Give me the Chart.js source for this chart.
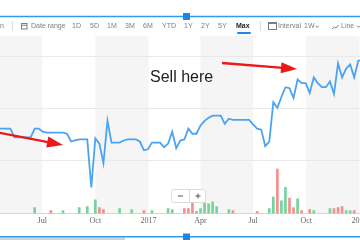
<!DOCTYPE html>
<html>
<head>
<meta charset="utf-8">
<script src="https://cdn.jsdelivr.net/npm/chart.js@4/dist/chart.umd.min.js"></script>
<style>
  html, body { margin: 0; padding: 0; background: #fff; }
</style>
</head>
<body>
<canvas id="chart" width="360" height="240"></canvas>
<script>
// weekly closes, first week ending 2016-04-16
const weekStart = '2016-04-16';
const closes = [
  46.1, 46.1, 46.1, 46.1, 44.4, 44.4, 44.4, 44.4, 44.4, 46.1,
  46.1, 45.5, 45.3, 45.3, 45.3, 45.3, 45.3, 45.1, 43.6, 43.8,
  44.0, 44.0, 44.0, 34.7, 44.2, 43.2, 39.4, 47.6, 43.4, 43.4,
  43.4, 43.8, 44.0, 44.0, 44.0, 43.6, 41.9, 42.1, 43.4, 43.4,
  43.4, 42.5, 43.2, 45.5, 42.3, 43.8, 44.0, 46.1, 45.1, 45.1,
  46.7, 47.6, 48.2, 48.6, 48.6, 48.6, 47.0, 48.0, 47.8, 47.8,
  47.8, 47.8, 47.8, 46.9, 46.1, 45.9, 42.7, 43.6, 51.2, 50.1,
  52.2, 54.1, 53.9, 52.0, 55.6, 54.9, 54.9, 53.0, 56.0, 54.9,
  54.1, 54.1, 55.2, 52.8, 58.7, 56.0, 57.7, 58.5, 56.0, 59.2,
  59.4
];
const volumeUp = [
  0, 0, 0, 0, 0, 0, 0, 0, 0, 3.3,
  0, 0, 0, 0, 0, 0, 1.6, 0, 0, 0,
  3.3, 0, 3.8, 0, 7.6, 0, 0, 0, 0, 0,
  2.7, 0, 0, 2.2, 0, 0, 0, 0, 1.6, 0,
  0, 0, 2.7, 2.2, 0, 0, 0, 0, 0, 1.1,
  2.7, 6.0, 5.4, 6.5, 3.8, 0, 0, 2.2, 0, 0,
  0, 0, 0, 0, 0, 0, 0, 2.7, 9.2, 0,
  7.1, 14.7, 0, 0, 8.2, 0, 0, 0, 1.6, 0,
  0, 0, 2.7, 0, 0, 0, 1.6, 1.6, 0, 0,
  0
];
const volumeDown = [
  0, 0, 0, 0, 0, 0, 0, 0, 0, 0,
  0, 0, 0, 1.6, 0, 0, 0, 0, 0, 0,
  0, 0, 0, 0, 0, 3.3, 2.2, 0, 0, 0,
  0, 0, 0, 0, 0, 0, 1.6, 0, 0, 0,
  0, 0, 0, 0, 0, 0, 2.7, 2.7, 8.7, 0,
  0, 0, 0, 0, 0, 0, 0, 0, 1.6, 0,
  0, 0, 0, 0, 1.1, 0, 0, 0, 0, 25,
  0, 0, 8.7, 3.3, 0, 1.6, 0, 2.2, 0, 0,
  0, 0, 0, 2.7, 3.3, 3.8, 0, 0, 1.6, 0,
  0
];
const tickDates = ['2016-07-01', '2016-10-01', '2017-01-01', '2017-04-01', '2017-07-01', '2017-10-01', '2018-01-01'];
const tickLabels = ['Jul', 'Oct', '2017', 'Apr', 'Jul', 'Oct', '2018'];
const rangeStart = '2016-04-19';
const rangeEnd = '2018-01-02';
const priceGrid = [40, 50, 60];

const toolbarItems = ['n', 'Date range', '1D', '5D', '1M', '3M', '6M', 'YTD', '1Y', '2Y', '5Y', 'Max', 'Interval', '1W', 'Line'];
const toolbarX = [0, 31, 72, 90, 107, 125, 143, 162, 184, 201, 218, 236, 278, 304, 341];

const DAY = 86400000;
function dayNum(s) { return Date.parse(s + 'T00:00:00Z') / DAY; }
const firstDay = dayNum(weekStart);
const weekDays = closes.map((c, i) => firstDay + 7 * i);
const tickDays = tickDates.map(dayNum);

const pricePoints = closes.map((v, i) => ({ x: weekDays[i], y: v }));
const upBars = volumeUp.map((v, i) => ({ x: weekDays[i], y: v || null }));
const downBars = volumeDown.map((v, i) => ({ x: weekDays[i], y: v || null }));

function arrow(ctx, x1, y1, x2, y2) {
  const a = Math.atan2(y2 - y1, x2 - x1);
  const hl = 16, hw = 5.5;
  const bx = x2 - hl * Math.cos(a), by = y2 - hl * Math.sin(a);
  ctx.strokeStyle = '#ea1a1a';
  ctx.fillStyle = '#ea1a1a';
  ctx.lineWidth = 2.4;
  ctx.beginPath();
  ctx.moveTo(x1, y1);
  ctx.lineTo(bx + 2 * Math.cos(a), by + 2 * Math.sin(a));
  ctx.stroke();
  ctx.beginPath();
  ctx.moveTo(x2, y2);
  ctx.lineTo(bx + hw * Math.sin(a), by - hw * Math.cos(a));
  ctx.lineTo(bx - hw * Math.sin(a), by + hw * Math.cos(a));
  ctx.closePath();
  ctx.fill();
}

function chevron(ctx, x, y) {
  ctx.beginPath();
  ctx.moveTo(x - 1.6, y - 0.8);
  ctx.lineTo(x, y + 0.8);
  ctx.lineTo(x + 1.6, y - 0.8);
  ctx.stroke();
}

const bands = {
  id: 'bands',
  beforeDraw(chart) {
    const { ctx, chartArea: ca, scales: { x } } = chart;
    const edges = [ca.left, ...tickDays.map(d => x.getPixelForValue(d)), ca.right];
    ctx.save();
    ctx.fillStyle = '#f5f5f5';
    for (let k = 0; k < edges.length - 1; k += 2) {
      const l = Math.max(edges[k], ca.left), r = Math.min(edges[k + 1], ca.right);
      if (r > l) ctx.fillRect(l, ca.top, r - l, ca.bottom - ca.top);
    }
    ctx.restore();
  }
};

const overlay = {
  id: 'overlay',
  afterDraw(chart) {
    const ctx = chart.ctx;
    ctx.save();

    // top navigator line
    ctx.strokeStyle = '#2f9af0';
    ctx.lineWidth = 1.5;
    ctx.beginPath(); ctx.moveTo(0, 16.5); ctx.lineTo(360, 16.5); ctx.stroke();
    ctx.fillStyle = '#1f86e0';
    ctx.fillRect(183, 13, 7, 7);

    // toolbar
    ctx.textBaseline = 'middle';
    ctx.textAlign = 'left';
    toolbarItems.forEach((t, i) => {
      const bold = t === 'Max';
      ctx.font = (bold ? 'bold ' : '') + '7px "Liberation Sans", Arial, sans-serif';
      ctx.fillStyle = bold ? '#232323' : '#7d7d7d';
      ctx.fillText(t, toolbarX[i], 26.5);
    });
    ctx.strokeStyle = '#1e88e5';
    ctx.lineWidth = 2;
    ctx.lineCap = 'round';
    ctx.beginPath(); ctx.moveTo(238, 33); ctx.lineTo(250, 33); ctx.stroke();
    ctx.lineCap = 'butt';
    ctx.strokeStyle = '#dedede';
    ctx.lineWidth = 1;
    ctx.beginPath(); ctx.moveTo(12.5, 21); ctx.lineTo(12.5, 31); ctx.stroke();
    ctx.beginPath(); ctx.moveTo(260.5, 21); ctx.lineTo(260.5, 31); ctx.stroke();
    ctx.strokeStyle = '#7d7d7d';
    ctx.strokeRect(21.5, 23.5, 5.5, 5.5);
    ctx.beginPath(); ctx.moveTo(21.5, 25.3); ctx.lineTo(27, 25.3); ctx.stroke();
    ctx.strokeRect(268.5, 22.5, 8, 7);
    ctx.fillStyle = '#7d7d7d';
    ctx.fillRect(268.5, 22.5, 8, 1.5);
    ctx.beginPath();
    ctx.moveTo(332, 29); ctx.lineTo(334.5, 27); ctx.lineTo(336, 28); ctx.lineTo(338.5, 25);
    ctx.stroke();
    chevron(ctx, 317, 26.5);
    chevron(ctx, 358.5, 26.5);

    // annotation
    ctx.font = '16px "Liberation Sans", Arial, sans-serif';
    ctx.fillStyle = '#222';
    ctx.textBaseline = 'alphabetic';
    ctx.fillText('Sell here', 150, 82);
    arrow(ctx, -2, 132.5, 63, 145);
    arrow(ctx, 222, 63, 297, 69);

    // zoom buttons
    ctx.fillStyle = '#fff';
    ctx.strokeStyle = '#dcdcdc';
    ctx.lineWidth = 1;
    ctx.beginPath();
    ctx.roundRect(171.5, 189.5, 34, 13, 2);
    ctx.fill(); ctx.stroke();
    ctx.beginPath(); ctx.moveTo(189.5, 190); ctx.lineTo(189.5, 202); ctx.stroke();
    ctx.strokeStyle = '#555';
    ctx.beginPath(); ctx.moveTo(178, 196); ctx.lineTo(183, 196); ctx.stroke();
    ctx.beginPath(); ctx.moveTo(195.5, 196); ctx.lineTo(200.5, 196);
    ctx.moveTo(198, 193.5); ctx.lineTo(198, 198.5); ctx.stroke();

    // bottom navigator
    ctx.fillStyle = '#d2d2d2';
    ctx.fillRect(0, 237.5, 125, 2.5);
    ctx.strokeStyle = '#2f9af0';
    ctx.lineWidth = 1.5;
    ctx.beginPath(); ctx.moveTo(0, 236.8); ctx.lineTo(360, 236.8); ctx.stroke();
    ctx.fillStyle = '#1f86e0';
    ctx.fillRect(183, 233.5, 7, 7);

    ctx.restore();
  }
};

new Chart(document.getElementById('chart'), {
  data: {
    datasets: [
      {
        type: 'line',
        data: pricePoints,
        yAxisID: 'y',
        borderColor: '#4ba3f2',
        borderWidth: 1.8,
        pointRadius: 0,
        tension: 0,
        order: 0
      },
      {
        type: 'bar',
        data: upBars,
        yAxisID: 'yv',
        backgroundColor: '#74d49c',
        barThickness: 2,
        grouped: false,
        order: 1
      },
      {
        type: 'bar',
        data: downBars,
        yAxisID: 'yv',
        backgroundColor: '#f58e8e',
        barThickness: 2,
        grouped: false,
        order: 1
      }
    ]
  },
  options: {
    responsive: false,
    animation: false,
    layout: { padding: { top: 36, bottom: 11, left: 0, right: 0 } },
    plugins: { legend: { display: false }, tooltip: { enabled: false } },
    scales: {
      x: {
        type: 'linear',
        offset: false,
        min: dayNum(rangeStart),
        max: dayNum(rangeEnd),
        afterBuildTicks: s => { s.ticks = tickDays.map(v => ({ value: v })); },
        afterFit: s => { s.paddingLeft = 0; s.paddingRight = 0; },
        ticks: {
          autoSkip: false,
          maxRotation: 0,
          padding: 3,
          color: '#666',
          font: { family: '"Liberation Serif", serif', size: 8 },
          callback: v => tickLabels[tickDays.indexOf(v)]
        },
        grid: { display: true, offset: false, drawOnChartArea: false, drawTicks: false },
        border: { display: true, color: '#d6d6d6' }
      },
      y: {
        position: 'left',
        min: 29.7,
        max: 64,
        afterBuildTicks: s => { s.ticks = priceGrid.map(v => ({ value: v })); },
        ticks: { display: false },
        grid: { color: '#e9e9e9', drawTicks: false },
        border: { display: false }
      },
      yv: {
        display: false,
        min: 0,
        max: 100
      }
    }
  },
  plugins: [bands, overlay]
});
</script>
</body>
</html>
